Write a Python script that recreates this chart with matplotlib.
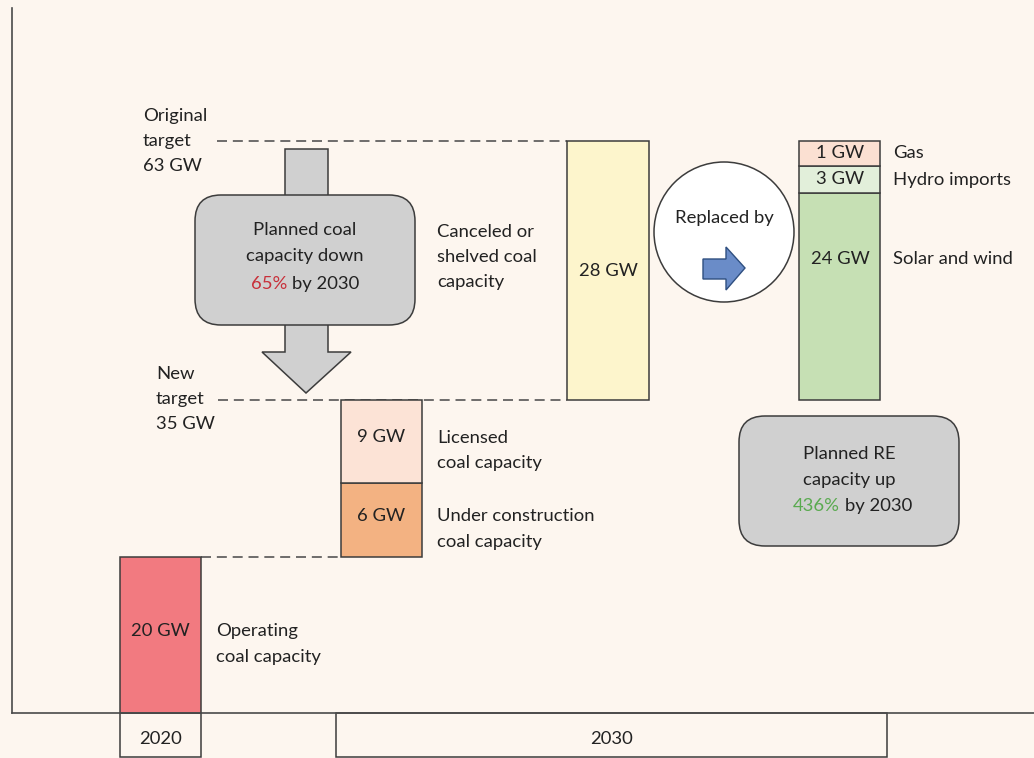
import matplotlib.pyplot as plt
from matplotlib.patches import Rectangle, FancyBboxPatch, Polygon, Circle

plt.rcParams['font.family'] = ['Lato', 'DejaVu Sans']

# schematic chart: values shown as labels, drawn heights (px)
coal_labels = ["20 GW", "6 GW", "9 GW"]
coal_heights = [156, 74, 83]
coal_colors = ["#f27a80", "#f3b282", "#fce3d6"]
coal_notes = ["Operating\ncoal capacity", "Under construction\ncoal capacity",
              "Licensed\ncoal capacity"]

cancel_label = "28 GW"
cancel_height = 259
cancel_note = "Canceled or\nshelved coal\ncapacity"

re_labels = ["24 GW", "3 GW", "1 GW"]
re_heights = [207, 27, 25]
re_colors = ["#c6e0b4", "#e2efda", "#fbe0d2"]
re_notes = ["Solar and wind", "Hydro imports", "Gas"]

years = ["2020", "2030"]
coal_drop = "65%"
re_rise = "436%"

bg = "#fdf6ef"
edge = "#3c3c3c"
txt = "#222222"
fs = 13.3
ls = 1.72

fig = plt.figure(figsize=(10.34, 7.58), dpi=100, facecolor=bg)
ax = fig.add_axes([0, 0, 1, 1])
ax.set_facecolor(bg)
ax.set_xlim(0, 1034)
ax.set_ylim(-45, 713)
ax.axis('off')

# axes lines
ax.plot([12, 12], [0, 705], color="#4a4a4a", lw=1.2, zorder=5)
ax.plot([12, 1034], [0, 0], color="#4a4a4a", lw=1.2, zorder=5)

# year boxes
for (x0, x1), yr in zip([(120, 201), (336, 887)], years):
    ax.add_patch(Rectangle((x0, -44), x1 - x0, 44, facecolor=bg, edgecolor=edge, lw=1.1))
    ax.text((x0 + x1) / 2, -26, yr, ha='center', va='center', fontsize=fs, color=txt)

# coal bars: 2020 operating, then stacked pipeline
bar_w = 81
coal_x = [120, 341, 341]
coal_bottom = [0, coal_heights[0], coal_heights[0] + coal_heights[1]]
for x, b, h, c, lab, note in zip(coal_x, coal_bottom, coal_heights, coal_colors,
                                 coal_labels, coal_notes):
    ax.add_patch(Rectangle((x, b), bar_w, h, facecolor=c, edgecolor=edge, lw=1.1, zorder=3))
    ax.text(x + bar_w / 2, b + h / 2 + 4, lab, ha='center', va='center',
            fontsize=fs, color=txt, zorder=4)
    ax.text(x + bar_w + 15, b + h / 2 - 9, note, ha='left', va='center',
            fontsize=fs, color=txt, linespacing=ls)

new_target = sum(coal_heights)
orig_target = new_target + cancel_height

# canceled bar
ax.add_patch(Rectangle((567, new_target), 82, cancel_height, facecolor="#fdf5cc",
                       edgecolor=edge, lw=1.1, zorder=3))
ax.text(608, new_target + cancel_height / 2, cancel_label, ha='center', va='center',
        fontsize=fs, color=txt)
ax.text(437, 456, cancel_note, ha='left', va='center', fontsize=fs, color=txt,
        linespacing=ls)

# RE stack
re_bottom = new_target
for h, c, lab, note in zip(re_heights, re_colors, re_labels, re_notes):
    ax.add_patch(Rectangle((799, re_bottom), 81, h, facecolor=c, edgecolor=edge, lw=1.1, zorder=3))
    yc = re_bottom + h / 2
    if h > 100:
        yc = 454
    ax.text(840, yc, lab, ha='center', va='center', fontsize=fs, color=txt, zorder=4)
    ax.text(893, yc, note, ha='left', va='center', fontsize=fs, color=txt)
    re_bottom += h

# dashed target lines
dash = dict(color="#555555", lw=1.2, dashes=[6, 3.5], zorder=2)
ax.plot([201, 341], [coal_heights[0], coal_heights[0]], **dash)
ax.plot([218, 567], [new_target, new_target], **dash)
ax.plot([217, 567], [orig_target, orig_target], **dash)
ax.text(143, orig_target, "Original\ntarget\n63 GW", ha='left', va='center',
        fontsize=fs, color=txt, linespacing=ls)
ax.text(156, new_target + 1, "New\ntarget\n35 GW", ha='left', va='center',
        fontsize=fs, color=txt, linespacing=ls)

# gray downward arrow with box
gray = "#d0d0d0"
ax.add_patch(Rectangle((285, 500), 43, 64, facecolor=gray, edgecolor=edge, lw=1.1, zorder=3))
ax.add_patch(Polygon([(285, 392), (328, 392), (328, 361), (351, 361), (306, 320),
                      (262, 361), (285, 361)], closed=True, facecolor=gray,
                     edgecolor=edge, lw=1.1, zorder=3))
ax.add_patch(FancyBboxPatch((195, 388), 220, 130, boxstyle="round,pad=0,rounding_size=26",
                            facecolor=gray, edgecolor=edge, lw=1.1, zorder=4))
ax.text(305, 470, "Planned coal\ncapacity down", ha='center', va='center',
        fontsize=fs, color=txt, linespacing=ls, zorder=5)
ax.text(287, 429, coal_drop, ha='right', va='center', fontsize=fs, color="#c8303a", zorder=5)
ax.text(292, 429, "by 2030", ha='left', va='center', fontsize=fs, color=txt, zorder=5)

# replaced-by circle
ax.add_patch(Circle((724, 481), 70, facecolor="white", edgecolor=edge, lw=1.1, zorder=3))
ax.text(724, 495, "Replaced by", ha='center', va='center', fontsize=fs, color=txt, zorder=4)
ax.add_patch(Polygon([(703, 454), (726, 454), (726, 466), (745, 445), (726, 423),
                      (726, 434), (703, 434)], closed=True, facecolor="#6a8cc8",
                     edgecolor="#2f4f80", lw=1.0, zorder=4))

# RE box
ax.add_patch(FancyBboxPatch((739, 167), 220, 130, boxstyle="round,pad=0,rounding_size=26",
                            facecolor=gray, edgecolor=edge, lw=1.1, zorder=4))
ax.text(849, 246, "Planned RE\ncapacity up", ha='center', va='center',
        fontsize=fs, color=txt, linespacing=ls, zorder=5)
ax.text(840, 207, re_rise, ha='right', va='center', fontsize=fs, color="#5aaa50", zorder=5)
ax.text(845, 207, "by 2030", ha='left', va='center', fontsize=fs, color=txt, zorder=5)

fig.savefig("out.png", dpi=100, facecolor=bg)
